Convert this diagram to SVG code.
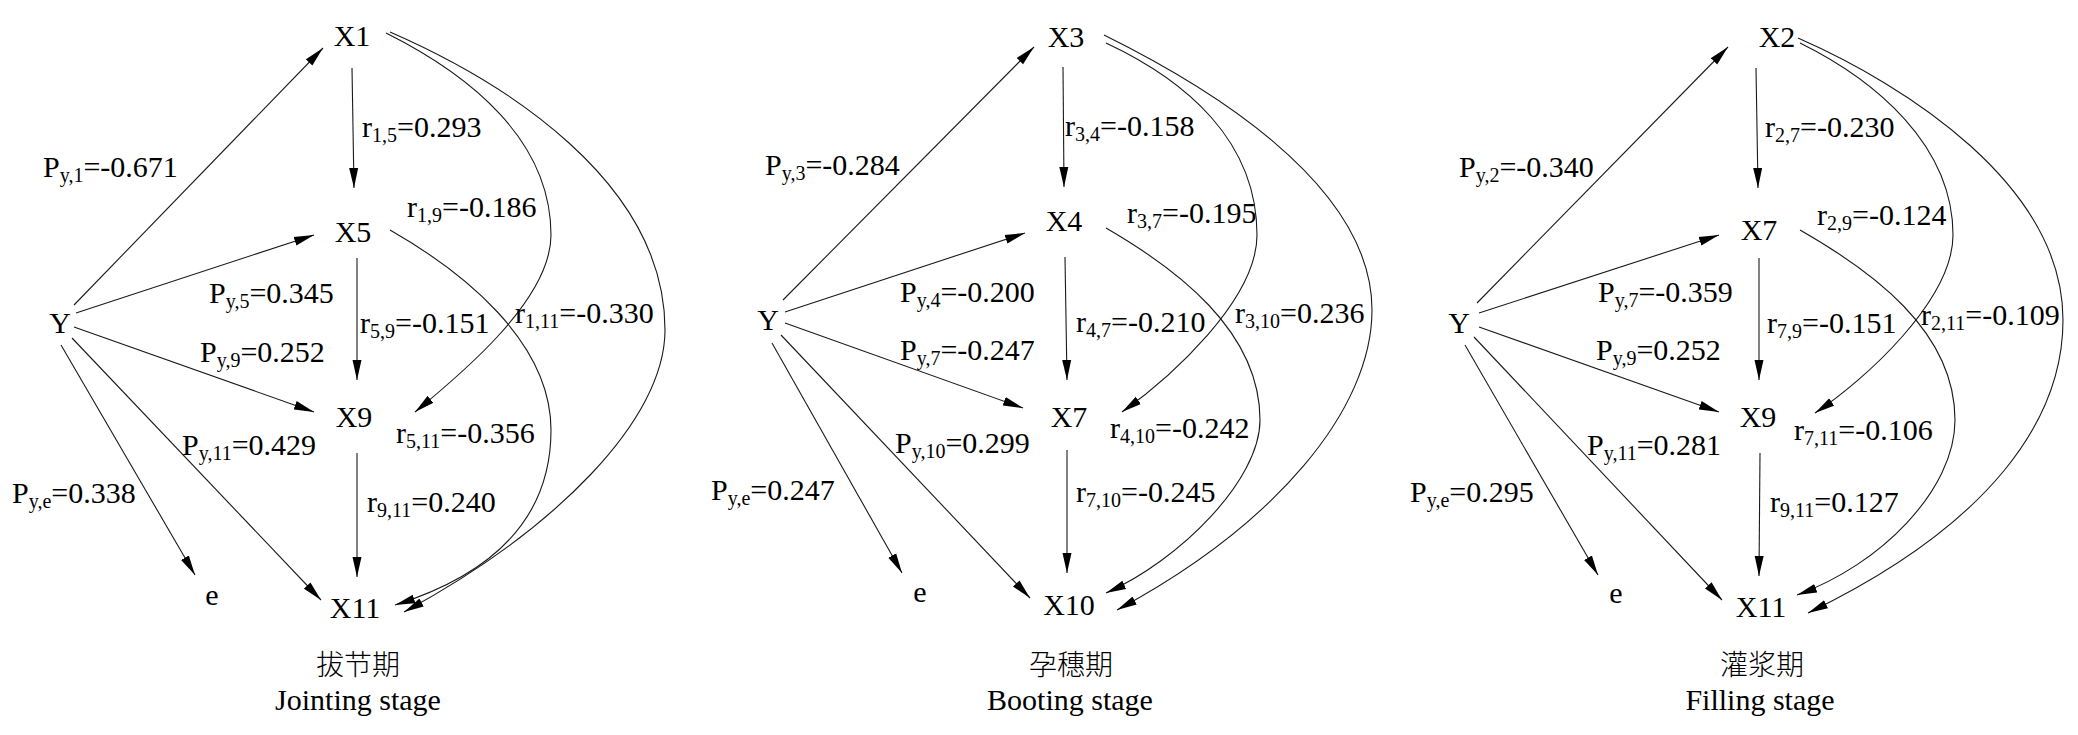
<svg xmlns="http://www.w3.org/2000/svg" width="2078" height="735" viewBox="0 0 2078 735">
<style>
.t{font-family:"Liberation Serif","Times New Roman","Noto Sans CJK SC",serif;font-size:30px;fill:#000}
.n{text-anchor:middle}
.s{font-size:20px}
.cjk{font-family:"Noto Sans CJK SC","Noto Sans CJK TC",sans-serif;font-size:28px;font-weight:300}
.c{fill:none;stroke:#1a1a1a;stroke-width:1.1;marker-end:url(#ah)}
</style>
<defs>
<marker id="ah" viewBox="0 0 20 10" markerWidth="20" markerHeight="10" refX="20" refY="5" orient="auto" markerUnits="userSpaceOnUse">
<path d="M0,0.5 L20,5 L0,9.5 Z" fill="#000"/>
</marker>
</defs>
<rect width="2078" height="735" fill="#fff"/>

<!-- Panel 1: Jointing stage -->
<g id="p1">
<g id="p1-X1"><text class="t n" x="352" y="46">X1</text></g>
<g id="p1-X5"><text class="t n" x="353" y="242">X5</text></g>
<g id="p1-X9"><text class="t n" x="354" y="427">X9</text></g>
<g id="p1-X11"><text class="t n" x="355" y="618">X11</text></g>
<g id="p1-Y"><text class="t n" x="60" y="333">Y</text></g>
<g id="p1-e"><text class="t n" x="212" y="605">e</text></g>
<g id="p1-connectors">
<path class="c" d="M74,305 L323,48"/>
<path class="c" d="M76,313 L314,235"/>
<path class="c" d="M74,327 L314,412"/>
<path class="c" d="M72,338 L321,600"/>
<path class="c" d="M61,345 L195,575"/>
<path class="c" d="M352,68 L354,188"/>
<path class="c" d="M357,258 L357,380"/>
<path class="c" d="M357,453 L357,577"/>
<path class="c" d="M386,33 C470,75 551,140 551,235 C551,300 460,375 415,412"/>
<path class="c" d="M390,32 C500,80 665,180 665,330 C665,420 555,530 404,612"/>
<path class="c" d="M390,230 C460,270 551,340 551,430 C551,520 490,575 395,605"/>
</g>
<g id="p1-labels">
<text class="t" x="43" y="177">P<tspan class="s" dy="5">y,1</tspan><tspan dy="-5">=-0.671</tspan></text>
<text class="t" x="362" y="137">r<tspan class="s" dy="5">1,5</tspan><tspan dy="-5">=0.293</tspan></text>
<text class="t" x="407" y="217">r<tspan class="s" dy="5">1,9</tspan><tspan dy="-5">=-0.186</tspan></text>
<text class="t" x="209" y="303">P<tspan class="s" dy="5">y,5</tspan><tspan dy="-5">=0.345</tspan></text>
<text class="t" x="360" y="333">r<tspan class="s" dy="5">5,9</tspan><tspan dy="-5">=-0.151</tspan></text>
<text class="t" x="515" y="323">r<tspan class="s" dy="5">1,11</tspan><tspan dy="-5">=-0.330</tspan></text>
<text class="t" x="200" y="362">P<tspan class="s" dy="5">y,9</tspan><tspan dy="-5">=0.252</tspan></text>
<text class="t" x="182" y="455">P<tspan class="s" dy="5">y,11</tspan><tspan dy="-5">=0.429</tspan></text>
<text class="t" x="396" y="443">r<tspan class="s" dy="5">5,11</tspan><tspan dy="-5">=-0.356</tspan></text>
<text class="t" x="367" y="512">r<tspan class="s" dy="5">9,11</tspan><tspan dy="-5">=0.240</tspan></text>
<text class="t" x="12" y="503">P<tspan class="s" dy="5">y,e</tspan><tspan dy="-5">=0.338</tspan></text>
</g>
<g id="p1-title">
<text class="cjk n" x="358" y="675">拔节期</text>
<text class="t n" x="358" y="710">Jointing stage</text>
</g>
</g>

<!-- Panel 2: Booting stage -->
<g id="p2">
<g id="p2-X3"><text class="t n" x="1066" y="47">X3</text></g>
<g id="p2-X4"><text class="t n" x="1064" y="231">X4</text></g>
<g id="p2-X7"><text class="t n" x="1069" y="427">X7</text></g>
<g id="p2-X10"><text class="t n" x="1069" y="615">X10</text></g>
<g id="p2-Y"><text class="t n" x="768" y="330">Y</text></g>
<g id="p2-e"><text class="t n" x="920" y="602">e</text></g>
<g id="p2-connectors">
<path class="c" d="M783,300 L1034,47"/>
<path class="c" d="M785,312 L1025,233"/>
<path class="c" d="M785,323 L1023,408"/>
<path class="c" d="M781,335 L1030,598"/>
<path class="c" d="M772,343 L902,573"/>
<path class="c" d="M1063,67 L1064,187"/>
<path class="c" d="M1065,257 L1067,380"/>
<path class="c" d="M1067,450 L1067,573"/>
<path class="c" d="M1106,43 C1185,80 1257,140 1257,235 C1257,300 1170,378 1122,412"/>
<path class="c" d="M1104,35 C1195,80 1372,180 1372,310 C1372,410 1275,525 1117,610"/>
<path class="c" d="M1106,228 C1175,268 1260,330 1260,420 C1260,480 1180,560 1106,593"/>
</g>
<g id="p2-labels">
<text class="t" x="765" y="175">P<tspan class="s" dy="5">y,3</tspan><tspan dy="-5">=-0.284</tspan></text>
<text class="t" x="1065" y="136">r<tspan class="s" dy="5">3,4</tspan><tspan dy="-5">=-0.158</tspan></text>
<text class="t" x="1127" y="223">r<tspan class="s" dy="5">3,7</tspan><tspan dy="-5">=-0.195</tspan></text>
<text class="t" x="900" y="302">P<tspan class="s" dy="5">y,4</tspan><tspan dy="-5">=-0.200</tspan></text>
<text class="t" x="1076" y="332">r<tspan class="s" dy="5">4,7</tspan><tspan dy="-5">=-0.210</tspan></text>
<text class="t" x="1235" y="323">r<tspan class="s" dy="5">3,10</tspan><tspan dy="-5">=0.236</tspan></text>
<text class="t" x="900" y="360">P<tspan class="s" dy="5">y,7</tspan><tspan dy="-5">=-0.247</tspan></text>
<text class="t" x="1110" y="438">r<tspan class="s" dy="5">4,10</tspan><tspan dy="-5">=-0.242</tspan></text>
<text class="t" x="895" y="453">P<tspan class="s" dy="5">y,10</tspan><tspan dy="-5">=0.299</tspan></text>
<text class="t" x="1076" y="502">r<tspan class="s" dy="5">7,10</tspan><tspan dy="-5">=-0.245</tspan></text>
<text class="t" x="711" y="500">P<tspan class="s" dy="5">y,e</tspan><tspan dy="-5">=0.247</tspan></text>
</g>
<g id="p2-title">
<text class="cjk n" x="1071" y="675">孕穗期</text>
<text class="t n" x="1070" y="710">Booting stage</text>
</g>
</g>

<!-- Panel 3: Filling stage -->
<g id="p3">
<g id="p3-X2"><text class="t n" x="1777" y="47">X2</text></g>
<g id="p3-X7"><text class="t n" x="1759" y="240">X7</text></g>
<g id="p3-X9"><text class="t n" x="1758" y="427">X9</text></g>
<g id="p3-X11"><text class="t n" x="1761" y="617">X11</text></g>
<g id="p3-Y"><text class="t n" x="1459" y="333">Y</text></g>
<g id="p3-e"><text class="t n" x="1616" y="603">e</text></g>
<g id="p3-connectors">
<path class="c" d="M1477,303 L1728,47"/>
<path class="c" d="M1479,313 L1719,235"/>
<path class="c" d="M1479,327 L1719,412"/>
<path class="c" d="M1474,337 L1722,600"/>
<path class="c" d="M1465,345 L1598,575"/>
<path class="c" d="M1756,68 L1758,188"/>
<path class="c" d="M1759,258 L1759,380"/>
<path class="c" d="M1760,453 L1759,576"/>
<path class="c" d="M1800,43 C1875,80 1953,145 1953,235 C1953,300 1865,380 1815,413"/>
<path class="c" d="M1798,38 C1905,85 2063,185 2063,320 C2063,420 1990,525 1808,613"/>
<path class="c" d="M1800,230 C1870,270 1955,330 1955,420 C1955,490 1880,565 1797,595"/>
</g>
<g id="p3-labels">
<text class="t" x="1459" y="177">P<tspan class="s" dy="5">y,2</tspan><tspan dy="-5">=-0.340</tspan></text>
<text class="t" x="1765" y="137">r<tspan class="s" dy="5">2,7</tspan><tspan dy="-5">=-0.230</tspan></text>
<text class="t" x="1817" y="225">r<tspan class="s" dy="5">2,9</tspan><tspan dy="-5">=-0.124</tspan></text>
<text class="t" x="1598" y="302">P<tspan class="s" dy="5">y,7</tspan><tspan dy="-5">=-0.359</tspan></text>
<text class="t" x="1767" y="333">r<tspan class="s" dy="5">7,9</tspan><tspan dy="-5">=-0.151</tspan></text>
<text class="t" x="1921" y="325">r<tspan class="s" dy="5">2,11</tspan><tspan dy="-5">=-0.109</tspan></text>
<text class="t" x="1596" y="360">P<tspan class="s" dy="5">y,9</tspan><tspan dy="-5">=0.252</tspan></text>
<text class="t" x="1794" y="440">r<tspan class="s" dy="5">7,11</tspan><tspan dy="-5">=-0.106</tspan></text>
<text class="t" x="1587" y="455">P<tspan class="s" dy="5">y,11</tspan><tspan dy="-5">=0.281</tspan></text>
<text class="t" x="1770" y="512">r<tspan class="s" dy="5">9,11</tspan><tspan dy="-5">=0.127</tspan></text>
<text class="t" x="1410" y="502">P<tspan class="s" dy="5">y,e</tspan><tspan dy="-5">=0.295</tspan></text>
</g>
<g id="p3-title">
<text class="cjk n" x="1762" y="675">灌浆期</text>
<text class="t n" x="1760" y="710">Filling stage</text>
</g>
</g>
</svg>
